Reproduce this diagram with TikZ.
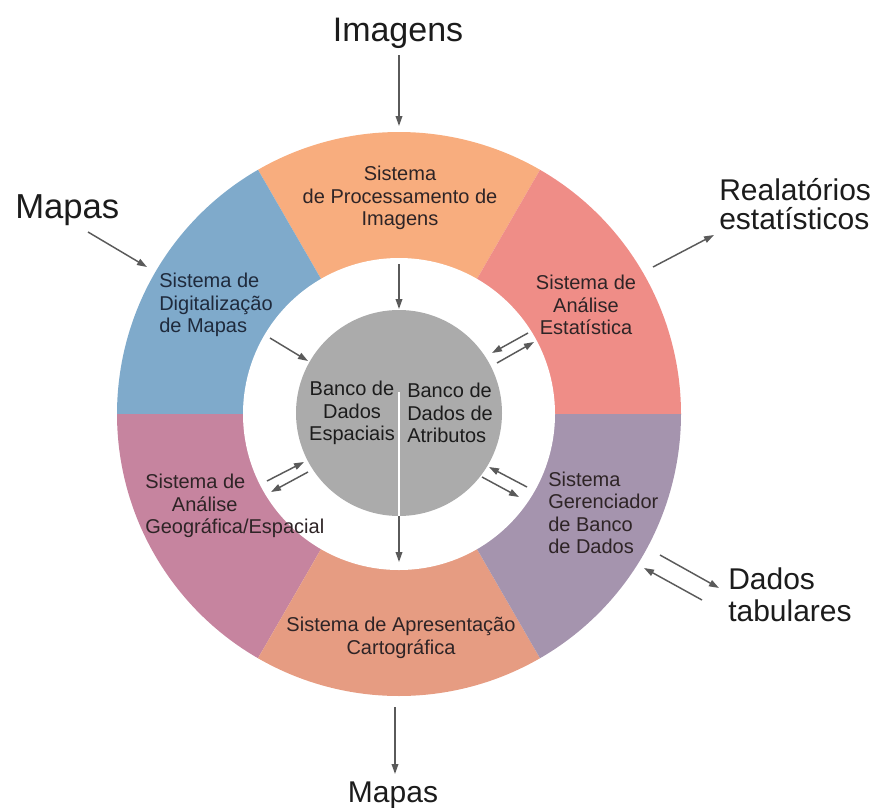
\documentclass[tikz,border=0pt]{standalone}
\usepackage{fontspec}
\setmainfont{Liberation Sans}
\usetikzlibrary{arrows.meta}
\definecolor{cOrange}{HTML}{F8AD7E}
\definecolor{cBlue}{HTML}{7FAACB}
\definecolor{cRed}{HTML}{EF8D87}
\definecolor{cPink}{HTML}{C6849F}
\definecolor{cPeach}{HTML}{E69C82}
\definecolor{cPurple}{HTML}{A594AE}
\definecolor{cGray}{HTML}{ABABAB}
\definecolor{cArrow}{HTML}{5A5A5A}
\definecolor{cText}{HTML}{2E2426}
\definecolor{cBlueText}{HTML}{1F2A3C}
\definecolor{cLabel}{HTML}{1C1C1C}
\begin{document}
\begin{tikzpicture}[x=0.75pt,y=-0.75pt,
  arr/.style={draw=cArrow, line width=1.1pt, -{Triangle[length=7.5pt,width=5pt]}},
  sys/.style={text=cText, inner sep=0pt, font=\fontsize{15pt}{16.9pt}\selectfont},
  big/.style={text=cLabel, inner sep=0pt, align=left},
  sector/.style={draw=none}
]
\useasboundingbox (0,0) rectangle (878,807);
\coordinate (c) at (399,414);
% ring sectors (y axis points down: visual angle = -theta)
\fill[cOrange] (c) -- ++(-120:282) arc[start angle=-120,end angle=-60,radius=282] -- cycle;
\fill[cRed]    (c) -- ++(-60:282) arc[start angle=-60,end angle=0,radius=282] -- cycle;
\fill[cBlue]   (c) -- ++(-180:282) arc[start angle=-180,end angle=-120,radius=282] -- cycle;
\fill[cPink]   (c) -- ++(120:282) arc[start angle=120,end angle=180,radius=282] -- cycle;
\fill[cPeach]  (c) -- ++(60:282) arc[start angle=60,end angle=120,radius=282] -- cycle;
\fill[cPurple] (c) -- ++(0:282) arc[start angle=0,end angle=60,radius=282] -- cycle;
\fill[white] (c) circle[radius=156];
\node (core) [circle, fill=cGray, minimum size=154.5pt, inner sep=0pt] at (399,413) {};
\coordinate (split) at (399,392);
\draw[white, line width=1.5pt] (split) -- (core.south);

% sector texts
\node (sproc) [sys, align=center] at (400,198) {Sistema\\de Processamento de\\Imagens};
\node (sdig) [sys, align=left, anchor=west, text=cBlueText] at (159,305) {Sistema de\\Digitalização\\de Mapas};
\node (sest) [sys, align=center] at (586,305) {Sistema de\\Análise\\Estatística};
\node (sgeo) [sys, align=left, anchor=west] at (145,506) {Sistema de\\\hspace*{20pt}Análise\\Geográfica/Espacial};
\node (sger) [sys, align=left, anchor=west] at (548,513) {Sistema\\Gerenciador\\de Banco\\de Dados};
\node (scart) [sys, align=center] at (401,638) {Sistema de Apresentação\\Cartográfica};
\node (bdesp) [sys, align=center, text=cLabel] at (352,413) {Banco de\\Dados\\Espaciais};
\node (bdatr) [sys, align=left, anchor=west, text=cLabel] at (407,413) {Banco de\\Dados de\\Atributos};

% outer labels
\node (limg) [big, anchor=base, font=\fontsize{25.5pt}{25.5pt}\selectfont] at (398,41) {Imagens};
\node (lmapin) [big, anchor=base west, font=\fontsize{26pt}{26pt}\selectfont] at (15,218) {Mapas};
\node (lrel) [big, anchor=west, font=\fontsize{22.5pt}{21.8pt}\selectfont] at (719,204) {Realatórios\\estatísticos};
\node (ldad) [big, anchor=west, font=\fontsize{22.5pt}{24pt}\selectfont] at (728,595) {Dados\\tabulares};
\node (lmapout) [big, anchor=base, font=\fontsize{22.5pt}{22.5pt}\selectfont] at (393,802) {Mapas};

% arrow end points
\coordinate (a1s) at (399,55);  \coordinate (a1e) at (399,126);
\coordinate (a2s) at (88,232);  \coordinate (a2e) at (147,267);
\coordinate (a3s) at (653,267); \coordinate (a3e) at (714,235);
\coordinate (a4s) at (660,555); \coordinate (a4e) at (719,588);
\coordinate (a5s) at (702,600); \coordinate (a5e) at (644,568);
\coordinate (a6s) at (395,707); \coordinate (a6e) at (395,774);
\coordinate (b1s) at (399,264); \coordinate (b1e) at (399,309);
\coordinate (b2s) at (270,338); \coordinate (b2e) at (308,361);
\coordinate (b3s) at (528,333); \coordinate (b3e) at (492,353);
\coordinate (b4s) at (497,363); \coordinate (b4e) at (534,342);
\coordinate (b5s) at (267,481); \coordinate (b5e) at (304,462);
\coordinate (b6s) at (308,472); \coordinate (b6e) at (271,492);
\coordinate (b7s) at (527,487); \coordinate (b7e) at (489,467);
\coordinate (b8s) at (482,477); \coordinate (b8e) at (519,497);
\coordinate (b9e) at (399,562);

\draw[arr] (a1s) -- (a1e);
\draw[arr] (a2s) -- (a2e);
\draw[arr] (a3s) -- (a3e);
\draw[arr] (a4s) -- (a4e);
\draw[arr] (a5s) -- (a5e);
\draw[arr] (a6s) -- (a6e);
\draw[arr] (b1s) -- (b1e);
\draw[arr] (b2s) -- (b2e);
\draw[arr] (b3s) -- (b3e);
\draw[arr] (b4s) -- (b4e);
\draw[arr] (b5s) -- (b5e);
\draw[arr] (b6s) -- (b6e);
\draw[arr] (b7s) -- (b7e);
\draw[arr] (b8s) -- (b8e);
\draw[arr] (core.south) -- (b9e);
\end{tikzpicture}
\end{document}
